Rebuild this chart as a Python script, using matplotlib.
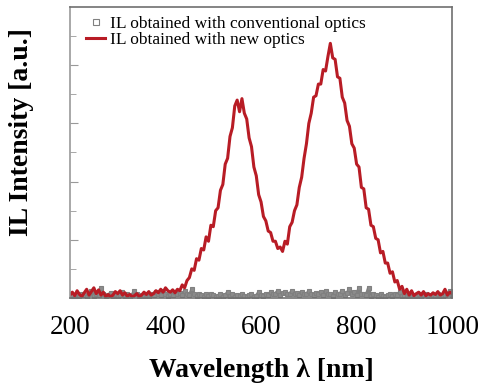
import numpy as np
import matplotlib
matplotlib.use('Agg')
from matplotlib import pyplot as plt

# wavelength grid, 5 nm steps
wavelength = np.arange(200, 1001, 5)

# IL intensity with the new optics (a.u.)
il_new = [
    0.10, 0.20, 0.08, 0.25, 0.12, 0.05, 0.18, 0.30, 0.10, 0.22,
    0.35, 0.15, 0.28, 0.10, 0.20, 0.05, 0.12, 0.04, 0.10, 0.22,
    0.15, 0.25, 0.10, 0.18, 0.06, 0.12, 0.05, 0.08, 0.15, 0.05,
    0.10, 0.20, 0.12, 0.22, 0.10, 0.15, 0.25, 0.18, 0.30, 0.20,
    0.35, 0.25, 0.20, 0.28, 0.18, 0.30, 0.25, 0.45, 0.35, 0.60,
    0.70, 1.00, 0.95, 1.35, 1.30, 1.70, 1.65, 2.10, 1.95, 2.50,
    2.45, 3.00, 3.10, 3.70, 3.90, 4.60, 4.80, 5.55, 5.85, 6.60,
    6.80, 6.40, 6.85, 6.35, 6.15, 5.50, 5.20, 4.50, 4.20, 3.55,
    3.30, 2.80, 2.65, 2.30, 2.25, 1.95, 1.95, 1.70, 1.75, 1.60,
    1.95, 1.85, 2.45, 2.60, 3.00, 3.20, 3.80, 4.15, 4.80, 5.30,
    6.00, 6.35, 6.90, 6.95, 7.35, 7.35, 7.85, 7.80, 8.30, 8.75,
    8.25, 8.20, 7.60, 7.55, 6.90, 6.70, 6.10, 5.90, 5.30, 5.15,
    4.60, 4.50, 3.80, 3.75, 3.10, 3.05, 2.50, 2.45, 2.05, 2.00,
    1.55, 1.60, 1.20, 1.20, 0.85, 0.90, 0.55, 0.60, 0.30, 0.40,
    0.15, 0.30, 0.10, 0.25, 0.08, 0.15, 0.20, 0.10, 0.22, 0.08,
    0.15, 0.10, 0.18, 0.12, 0.22, 0.10, 0.15, 0.30, 0.10, 0.20,
    0.15,
]

# IL intensity with conventional optics (a.u.)
il_conv = [
    0.05, 0.10, 0.08, 0.12, 0.06, 0.15, 0.10, 0.05, 0.12, 0.25,
    0.08, 0.15, 0.10, 0.35, 0.12, 0.06, 0.10, 0.18, 0.08, 0.12,
    0.05, 0.10, 0.20, 0.08, 0.15, 0.05, 0.10, 0.25, 0.12, 0.06,
    0.10, 0.08, 0.15, 0.05, 0.12, 0.10, 0.20, 0.15, 0.10, 0.25,
    0.12, 0.08, 0.15, 0.10, 0.20, 0.12, 0.18, 0.10, 0.25, 0.15,
    0.10, 0.30, 0.12, 0.08, 0.15, 0.10, 0.05, 0.12, 0.08, 0.15,
    0.10, 0.05, 0.08, 0.12, 0.05, 0.10, 0.20, 0.08, 0.12, 0.05,
    0.10, 0.06, 0.12, 0.08, 0.05, 0.10, 0.15, 0.05, 0.08, 0.20,
    0.10, 0.06, 0.15, 0.10, 0.20, 0.12, 0.15, 0.25, 0.10, 0.18,
    0.20, 0.12, 0.15, 0.25, 0.12, 0.18, 0.10, 0.20, 0.15, 0.12,
    0.25, 0.15, 0.10, 0.18, 0.12, 0.20, 0.10, 0.25, 0.12, 0.15,
    0.08, 0.20, 0.12, 0.15, 0.25, 0.10, 0.18, 0.30, 0.12, 0.20,
    0.10, 0.35, 0.12, 0.15, 0.10, 0.35, 0.08, 0.15, 0.10, 0.05,
    0.12, 0.08, 0.05, 0.10, 0.15, 0.08, 0.12, 0.10, 0.20, 0.06,
    0.10, 0.08, 0.12, 0.05, 0.10, 0.08, 0.15, 0.05, 0.10, 0.12,
    0.08, 0.05, 0.10, 0.06, 0.12, 0.08, 0.05, 0.10, 0.15, 0.25,
    0.10,
]

xticks = [200, 400, 600, 800, 1000]

plt.rcParams['font.family'] = ['Liberation Serif', 'DejaVu Serif']

fig = plt.figure(figsize=(4.79, 3.87), dpi=100)
ax = fig.add_axes([0.146, 0.230, 0.798, 0.752])

ax.plot(wavelength, il_conv, color='#808080', lw=2.2, marker='s', ms=3.5,
        mfc='#8c8c8c', mec='#808080', mew=0.8,
        label='IL obtained with conventional optics')
ax.plot(wavelength, il_new, color='#b81c25', lw=2.2,
        label='IL obtained with new optics')

ax.set_xlim(200, 1000)
ax.set_ylim(0, 10)
ax.set_xticks(xticks)
ax.tick_params(axis='x', length=0, pad=12, labelsize=19.5)
ax.set_yticks([0, 2, 4, 6, 8])
ax.set_yticks([1, 3, 5, 7, 9], minor=True)
ax.tick_params(axis='y', which='major', direction='in', length=6,
               color='#999999', labelleft=False)
ax.tick_params(axis='y', which='minor', direction='in', length=4,
               color='#999999')

for s in ax.spines.values():
    s.set_color('#707070')
    s.set_linewidth(1.2)
ax.spines['left'].set_color('#999999')

ax.set_xlabel('Wavelength λ [nm]', fontsize=20, fontweight='bold', labelpad=13)
ax.set_ylabel('IL Intensity [a.u.]', fontsize=20, fontweight='bold')
ax.yaxis.set_label_coords(-0.095, 0.57)

leg = ax.legend(loc='upper left', frameon=False, fontsize=12.5,
                handlelength=1.1, handletextpad=0.25, labelspacing=0.0,
                borderaxespad=0.1, bbox_to_anchor=(0.02, 1.0))
leg.legend_handles[0].set_linestyle('none')
leg.legend_handles[0].set_markerfacecolor('white')
leg.legend_handles[0].set_markersize(5)

fig.savefig('out.png', dpi=100)
